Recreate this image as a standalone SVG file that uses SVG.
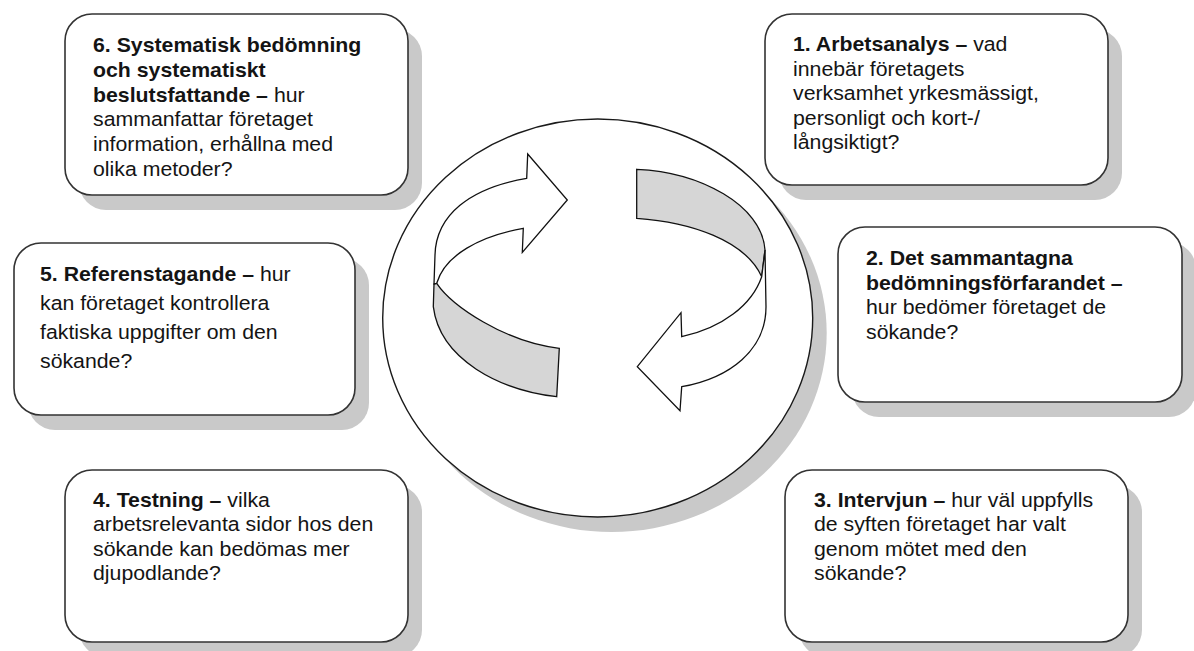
<svg xmlns="http://www.w3.org/2000/svg" width="1194" height="651" viewBox="0 0 1194 651">
  <style>
    .shadow { fill: #c9c9c9; }
    .box { fill: #ffffff; stroke: #333333; stroke-width: 1.6; }
    .ring { fill: #ffffff; stroke: #1a1a1a; stroke-width: 1.4; }
    .band-white { fill: #ffffff; stroke: #111111; stroke-width: 1.3; stroke-linejoin: miter; }
    .band-grey { fill: #d6d6d6; stroke: #111111; stroke-width: 1.3; stroke-linejoin: miter; }
    text { font-family: "Liberation Sans", Arial, sans-serif; font-size: 19.7px; fill: #141414; }
    .b { font-weight: bold; }
  </style>
  <rect width="1194" height="651" fill="#ffffff"/>

  <!-- central cycle -->
  <g id="cycle">
    <ellipse class="shadow" cx="611.7" cy="333" rx="215" ry="199"/>
    <ellipse class="ring" cx="597.7" cy="318" rx="215" ry="199"/>
  </g>

  <!-- steps -->
  <g id="step6">
    <rect class="shadow" x="79" y="29" width="343" height="181" rx="27"/>
    <rect class="box" x="65" y="14" width="343" height="181" rx="27"/>
    <text transform="matrix(1.08 0 0 1 93 0)">
      <tspan x="0" y="52.3" class="b">6. Systematisk bedömning</tspan>
      <tspan x="0" y="77" class="b">och systematiskt</tspan>
      <tspan x="0" y="101.7"><tspan class="b">beslutsfattande –</tspan> hur</tspan>
      <tspan x="0" y="126.4">sammanfattar företaget</tspan>
      <tspan x="0" y="151.1">information, erhållna med</tspan>
      <tspan x="0" y="175.8">olika metoder?</tspan>
    </text>
  </g>

  <g id="step1">
    <rect class="shadow" x="779" y="29" width="343" height="171" rx="27"/>
    <rect class="box" x="765" y="14" width="343" height="171" rx="27"/>
    <text transform="matrix(1.08 0 0 1 793 0)">
      <tspan x="0" y="51.3"><tspan class="b">1. Arbetsanalys –</tspan> vad</tspan>
      <tspan x="0" y="75.8">innebär företagets</tspan>
      <tspan x="0" y="100.3">verksamhet yrkesmässigt,</tspan>
      <tspan x="0" y="124.8">personligt och kort-/</tspan>
      <tspan x="0" y="149.3">långsiktigt?</tspan>
    </text>
  </g>

  <g id="step5">
    <rect class="shadow" x="28" y="258" width="341" height="172" rx="27"/>
    <rect class="box" x="14" y="243" width="341" height="172" rx="27"/>
    <text transform="matrix(1.08 0 0 1 40 0)">
      <tspan x="0" y="280.7"><tspan class="b">5. Referenstagande –</tspan> hur</tspan>
      <tspan x="0" y="309.7">kan företaget kontrollera</tspan>
      <tspan x="0" y="338.7">faktiska uppgifter om den</tspan>
      <tspan x="0" y="367.7">sökande?</tspan>
    </text>
  </g>

  <g id="step2">
    <rect class="shadow" x="852" y="242" width="344" height="175" rx="27"/>
    <rect class="box" x="838" y="227" width="344" height="175" rx="27"/>
    <text transform="matrix(1.08 0 0 1 866 0)">
      <tspan x="0" y="265" class="b">2. Det sammantagna</tspan>
      <tspan x="0" y="289.7" class="b">bedömningsförfarandet –</tspan>
      <tspan x="0" y="314.4">hur bedömer företaget de</tspan>
      <tspan x="0" y="339.1">sökande?</tspan>
    </text>
  </g>

  <g id="step4">
    <rect class="shadow" x="79" y="485" width="343" height="172" rx="27"/>
    <rect class="box" x="65" y="470" width="343" height="172" rx="27"/>
    <text transform="matrix(1.08 0 0 1 93 0)">
      <tspan x="0" y="507"><tspan class="b">4. Testning –</tspan> vilka</tspan>
      <tspan x="0" y="531.4">arbetsrelevanta sidor hos den</tspan>
      <tspan x="0" y="555.8">sökande kan bedömas mer</tspan>
      <tspan x="0" y="580.2">djupodlande?</tspan>
    </text>
  </g>

  <g id="step3">
    <rect class="shadow" x="799" y="485" width="343" height="172" rx="27"/>
    <rect class="box" x="785" y="470" width="343" height="172" rx="27"/>
    <text transform="matrix(1.08 0 0 1 814 0)">
      <tspan x="0" y="507"><tspan class="b">3. Intervjun –</tspan> hur väl uppfylls</tspan>
      <tspan x="0" y="531.4">de syften företaget har valt</tspan>
      <tspan x="0" y="555.8">genom mötet med den</tspan>
      <tspan x="0" y="580.2">sökande?</tspan>
    </text>
  </g>

  <!-- circular arrows (twisted ribbons) -->
  <g id="connectors">
    <g id="arrow-left">
      <path class="band-grey" d="M 436.7,283.3 C 452,306 505,342 559.3,348.3 L 556.7,396.7 C 500,390 440,360 433.3,306.7 L 434,284 Z"/>
      <path class="band-white" d="M 526.7,178.3 L 527.7,154 L 567.3,200 L 522.3,252.3 L 523.3,228.3 C 480,236 445,255 436.7,283.3 L 434,284 L 435,255 C 436,215 470,188 526.7,178.3 Z"/>
    </g>
    <g id="arrow-right">
      <path class="band-grey" d="M 636.7,169.3 C 700,172 762,205 765,250 L 761.7,276.7 C 745,240 690,222 636.7,218.3 Z"/>
      <path class="band-white" d="M 761.7,276.7 C 752,305 722,328 681.7,336.7 L 681,312.7 L 637.3,366.7 L 680,410.7 L 681.7,386.7 C 730,378 766,350 766,306.7 L 765,250 Z"/>
    </g>
  </g>
</svg>
